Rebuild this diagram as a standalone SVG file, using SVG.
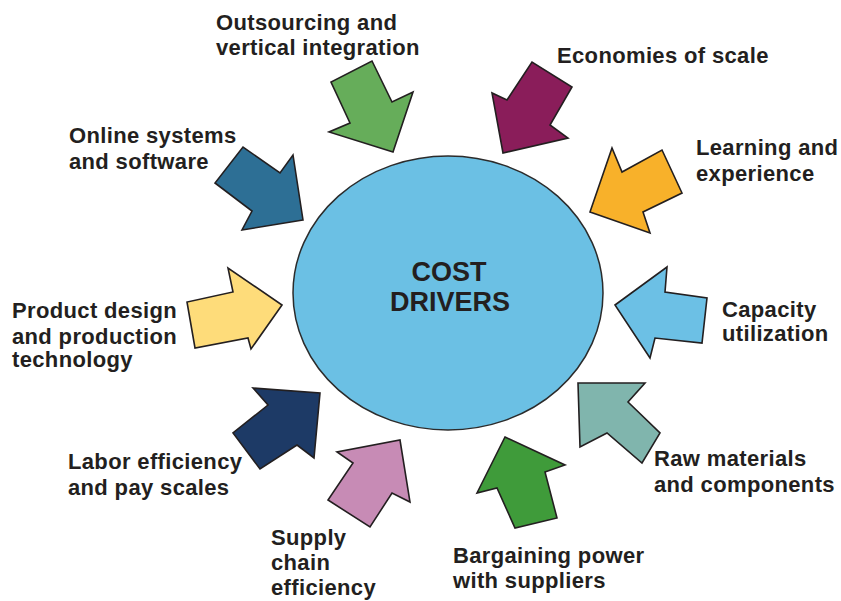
<svg xmlns="http://www.w3.org/2000/svg" width="841" height="601" viewBox="0 0 841 601">
  <style>
    .bg { fill: #ffffff; }
    .hub { fill: #6bc0e4; stroke: #2b2b2b; stroke-width: 1.5; }
    .arrow { stroke: #231f20; stroke-width: 1.6; stroke-linejoin: miter; }
    .label { font-family: "Liberation Sans", Arial, Helvetica, sans-serif; font-weight: bold; font-size: 22px; letter-spacing: 0.35px; fill: #231f20; }
    .title { font-family: "Liberation Sans", Arial, Helvetica, sans-serif; font-weight: bold; font-size: 27px; fill: #231f20; text-anchor: middle; }
  </style>
  <rect class="bg" x="0" y="0" width="841" height="601"/>

  <!-- central node -->
  <g id="cost-drivers">
    <ellipse class="hub" cx="448" cy="293" rx="155" ry="137"/>
    <text class="title" x="449" y="281">COST</text>
    <text class="title" x="450" y="311">DRIVERS</text>
  </g>

  <!-- driver arrows pointing into the hub -->
  <g id="connectors">
    <polygon id="arrow-outsourcing" class="arrow" fill="#66ad5a" points="393,152 329,132 350,123 331,82 372,61 392,102 413,92"/>
    <polygon id="arrow-economies" class="arrow" fill="#8a1d5a" points="503,153 492,93 507,100 532,62 572,87 550,125 568,138"/>
    <polygon id="arrow-learning" class="arrow" fill="#f8b12a" points="590,212 612,148 622,172 662,150 682,193 643,212 650,233"/>
    <polygon id="arrow-capacity" class="arrow" fill="#6cc0e5" points="615,305 667,267 665,292 707,298 702,343 655,338 650,358"/>
    <polygon id="arrow-raw" class="arrow" fill="#80b5ad" points="578,383 645,383 628,402 660,433 642,463 607,433 580,447"/>
    <polygon id="arrow-bargaining" class="arrow" fill="#3f9b3a" points="505,437 565,465 545,472 557,518 515,528 497,488 477,493"/>
    <polygon id="arrow-supply" class="arrow" fill="#c78bb5" points="400,440 410,502 392,493 370,527 328,500 353,463 337,452"/>
    <polygon id="arrow-labor" class="arrow" fill="#1d3a66" points="320,393 314,458 297,445 260,469 233,433 268,405 253,388"/>
    <polygon id="arrow-product" class="arrow" fill="#fedc7a" points="282,305 251,349 248,338 195,348 187,302 233,292 228,268"/>
    <polygon id="arrow-online" class="arrow" fill="#2d6f95" points="303,220 242,230 252,211 215,183 243,147 280,173 293,155"/>
  </g>

  <!-- driver labels -->
  <g id="outsourcing">
    <text class="label" x="216" y="30">Outsourcing and</text>
    <text class="label" x="216" y="55">vertical integration</text>
  </g>
  <g id="economies">
    <text class="label" x="557" y="63">Economies of scale</text>
  </g>
  <g id="learning">
    <text class="label" x="696" y="155">Learning and</text>
    <text class="label" x="696" y="181">experience</text>
  </g>
  <g id="capacity">
    <text class="label" x="722" y="317">Capacity</text>
    <text class="label" x="722" y="341">utilization</text>
  </g>
  <g id="raw-materials">
    <text class="label" x="654" y="466">Raw materials</text>
    <text class="label" x="654" y="492">and components</text>
  </g>
  <g id="bargaining">
    <text class="label" x="453" y="563">Bargaining power</text>
    <text class="label" x="453" y="588">with suppliers</text>
  </g>
  <g id="supply-chain">
    <text class="label" x="271" y="545">Supply</text>
    <text class="label" x="271" y="570">chain</text>
    <text class="label" x="271" y="595">efficiency</text>
  </g>
  <g id="labor">
    <text class="label" x="68" y="469">Labor efficiency</text>
    <text class="label" x="68" y="495">and pay scales</text>
  </g>
  <g id="product-design">
    <text class="label" x="12" y="318">Product design</text>
    <text class="label" x="12" y="344">and production</text>
    <text class="label" x="12" y="367">technology</text>
  </g>
  <g id="online">
    <text class="label" x="69" y="143">Online systems</text>
    <text class="label" x="69" y="169">and software</text>
  </g>
</svg>
